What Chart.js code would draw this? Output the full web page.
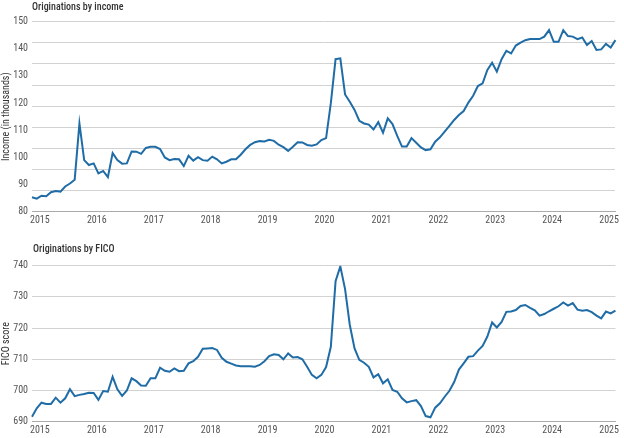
<!DOCTYPE html>
<html>
<head>
<meta charset="utf-8">
<script src="https://cdn.jsdelivr.net/npm/chart.js@4/dist/chart.umd.min.js"></script>
<style>
html, body { margin: 0; padding: 0; background: #fff; }
canvas { display: block; }
</style>
</head>
<body>
<canvas id="income_chart" width="624" height="230"></canvas>
<canvas id="fico_chart" width="624" height="208"></canvas>
<script>
// monthly, Jan 2015 - Apr 2025
var years = [2015, 2016, 2017, 2018, 2019, 2020, 2021, 2022, 2023, 2024, 2025];
var months = [];
years.forEach(function(y) {
    for (var m = 1; m <= 12; m++) {
        if (y === 2025 && m > 4) break;
        months.push(y + '-' + (m < 10 ? '0' + m : m));
    }
});

var income = [
    85.3, 84.8, 85.9, 85.7, 87.2, 87.6, 87.4, 89.3, 90.4, 91.8,
    112.5, 99.0, 97.2, 97.8, 94.1, 95.0, 92.7, 101.6, 99.0, 97.7,
    97.8, 102.2, 102.1, 101.3, 103.5, 103.9, 103.9, 103.1, 100.0, 99.0,
    99.4, 99.3, 96.8, 100.6, 98.8, 100.1, 99.0, 98.8, 100.3, 99.3,
    97.8, 98.4, 99.3, 99.3, 101.0, 103.0, 104.6, 105.6, 106.0, 105.9,
    106.5, 106.1, 104.7, 103.8, 102.4, 103.9, 105.6, 105.5, 104.6, 104.3,
    104.8, 106.4, 107.1, 120.0, 136.2, 136.5, 123.2, 120.5, 117.5, 113.5,
    112.5, 112.1, 110.3, 113.0, 109.1, 114.4, 112.3, 107.9, 104.0, 104.0,
    107.1, 105.4, 103.7, 102.7, 103.0, 105.8, 107.4, 109.5, 111.6, 113.8,
    115.6, 117.1, 120.2, 122.7, 126.3, 127.3, 132.2, 134.9, 131.6, 136.2,
    139.3, 138.3, 141.2, 142.3, 143.2, 143.6, 143.6, 143.6, 144.5, 146.9,
    142.6, 142.6, 146.9, 144.7, 144.5, 143.6, 144.2, 141.4, 142.9, 139.6,
    139.8, 141.8, 140.5, 143.2
];

var fico = [
    691.6, 694.3, 696.1, 695.7, 695.7, 697.7, 696.1, 697.5, 700.4, 698.2,
    698.6, 698.9, 699.3, 699.2, 697.0, 699.8, 699.6, 704.4, 700.4, 698.3,
    700.0, 703.9, 703.0, 701.6, 701.5, 703.9, 703.9, 707.3, 706.3, 706.0,
    707.1, 706.2, 706.3, 708.7, 709.4, 710.8, 713.4, 713.5, 713.6, 713.0,
    710.5, 709.2, 708.6, 708.0, 707.8, 707.8, 707.8, 707.6, 708.2, 709.4,
    711.0, 711.6, 711.4, 710.0, 711.9, 710.6, 710.7, 710.0, 707.6, 705.0,
    703.9, 705.0, 707.5, 714.0, 735.0, 739.8, 732.5, 721.0, 713.5, 709.8,
    708.9, 707.6, 704.2, 705.2, 702.3, 703.6, 700.2, 699.6, 697.5, 696.2,
    696.6, 696.9, 695.0, 691.8, 691.4, 694.5, 695.9, 698.0, 699.9, 702.7,
    706.7, 708.7, 710.8, 711.0, 712.8, 714.3, 717.3, 721.8, 720.2, 722.0,
    725.2, 725.3, 725.8, 727.1, 727.4, 726.5, 725.7, 724.0, 724.5, 725.4,
    726.2, 727.0, 728.2, 727.2, 728.0, 725.9, 725.6, 725.8, 725.1, 724.0,
    723.1, 725.3, 724.7, 725.6
];

var fontName = "'Liberation Sans Narrow', 'Roboto Condensed', 'Arial Narrow', Roboto, sans-serif";
Chart.defaults.font.family = fontName;
Chart.defaults.font.size = 10;
Chart.defaults.color = '#555';

var lineColor = '#1f6ca6';
var gridColor = '#d2d2d2';

// title drawn at the left edge of the plot area
var panelTitle = {
    id: 'panelTitle',
    afterDraw: function(chart, args, opts) {
        var ctx = chart.ctx;
        ctx.save();
        ctx.font = '500 10px ' + fontName;
        ctx.fillStyle = '#333';
        ctx.textBaseline = 'middle';
        ctx.textAlign = 'left';
        ctx.fillText(opts.text, chart.chartArea.left + opts.dx, opts.y);
        ctx.restore();
    }
};

function xAxis(h) {
    return {
        grid: { display: false, drawTicks: false },
        border: { display: true, color: '#aaa', width: 1 },
        ticks: {
            autoSkip: false,
            maxRotation: 0,
            align: 'start',
            labelOffset: -2,
            padding: 3,
            color: '#555',
            callback: function(v, i) {
                var l = months[i];
                return l.slice(5) === '01' ? l.slice(0, 4) : null;
            }
        },
        afterFit: function(s) { s.height = h; }
    };
}

function lineData(values) {
    return {
        labels: months,
        datasets: [{
            data: values,
            borderColor: lineColor,
            borderWidth: 2,
            pointRadius: 0,
            tension: 0,
            fill: false
        }]
    };
}

new Chart(document.getElementById('income_chart'), {
    type: 'line',
    data: lineData(income),
    plugins: [panelTitle],
    options: {
        responsive: false,
        animation: false,
        layout: { padding: { top: 21.7, right: 2, left: 0, bottom: 0 } },
        plugins: {
            legend: { display: false },
            tooltip: { enabled: false },
            panelTitle: { text: 'Originations by income', y: 7, dx: 0 }
        },
        scales: {
            x: xAxis(18.3),
            y: {
                min: 80,
                max: 150,
                ticks: { stepSize: 10, padding: 4, color: '#555' },
                grid: { display: false, drawTicks: false },
                border: { display: false },
                title: { display: true, text: 'Income (in thousands)', color: '#333', padding: 0 },
                afterFit: function(s) { s.width = 32; }
            },
            // the grid of this panel does not sit on the value ticks
            yg: {
                position: 'right',
                min: 0,
                max: 9,
                ticks: { display: false, stepSize: 1 },
                grid: { color: gridColor, drawTicks: false },
                border: { display: false },
                afterFit: function(s) { s.width = 0; }
            }
        }
    }
});

new Chart(document.getElementById('fico_chart'), {
    type: 'line',
    data: lineData(fico),
    plugins: [panelTitle],
    options: {
        responsive: false,
        animation: false,
        layout: { padding: { top: 35.7, right: 2, left: 0, bottom: 0 } },
        plugins: {
            legend: { display: false },
            tooltip: { enabled: false },
            panelTitle: { text: 'Originations by FICO', y: 19.5, dx: 1 }
        },
        scales: {
            x: xAxis(16.3),
            y: {
                min: 690,
                max: 740,
                ticks: { stepSize: 10, padding: 4, color: '#555' },
                grid: { color: gridColor, drawTicks: false },
                border: { display: false },
                title: { display: true, text: 'FICO score', color: '#333', padding: 0 },
                afterFit: function(s) { s.width = 32; }
            }
        }
    }
});
</script>
</body>
</html>
